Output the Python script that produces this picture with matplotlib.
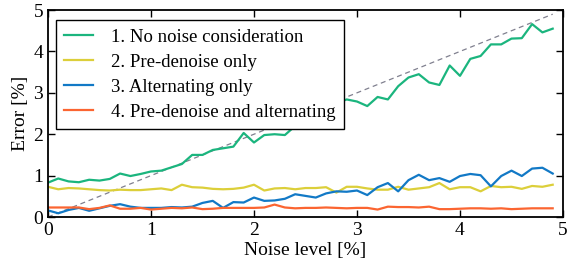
import numpy as np
import matplotlib
matplotlib.use("Agg")
import matplotlib.pyplot as plt

plt.rcParams['font.family'] = ['Liberation Serif', 'DejaVu Serif']
plt.rcParams['mathtext.fontset'] = 'stix'

# noise levels 0.0 .. 4.9
noise = np.round(np.arange(0, 5.0, 0.1), 1)

no_noise = [0.83, 0.93, 0.86, 0.84, 0.90, 0.88, 0.92, 1.05, 0.99, 1.04,
            1.10, 1.12, 1.20, 1.28, 1.50, 1.50, 1.62, 1.66, 1.70, 2.03,
            1.80, 1.98, 2.00, 1.98, 2.20, 2.35, 2.50, 2.65, 2.75, 2.84,
            2.79, 2.68, 2.90, 2.84, 3.16, 3.37, 3.45, 3.25, 3.19, 3.66,
            3.41, 3.82, 3.89, 4.17, 4.17, 4.31, 4.32, 4.66, 4.46, 4.55]

pre_denoise = [0.73, 0.67, 0.70, 0.69, 0.67, 0.65, 0.64, 0.66, 0.65, 0.65,
               0.67, 0.69, 0.65, 0.78, 0.72, 0.71, 0.68, 0.67, 0.68, 0.71,
               0.78, 0.64, 0.69, 0.70, 0.67, 0.70, 0.70, 0.72, 0.59, 0.73,
               0.73, 0.69, 0.66, 0.66, 0.73, 0.66, 0.69, 0.72, 0.82, 0.67,
               0.72, 0.72, 0.62, 0.75, 0.72, 0.73, 0.68, 0.75, 0.73, 0.78]

alternating = [0.16, 0.09, 0.17, 0.22, 0.15, 0.21, 0.27, 0.31, 0.25, 0.22,
               0.22, 0.22, 0.24, 0.23, 0.25, 0.34, 0.39, 0.22, 0.36, 0.35,
               0.47, 0.39, 0.40, 0.44, 0.55, 0.51, 0.47, 0.57, 0.62, 0.61,
               0.64, 0.53, 0.72, 0.82, 0.62, 0.89, 1.02, 0.89, 0.94, 0.85,
               0.99, 1.04, 1.01, 0.74, 0.99, 1.12, 0.99, 1.17, 1.19, 1.05]

pre_and_alt = [0.23, 0.23, 0.23, 0.23, 0.19, 0.22, 0.28, 0.20, 0.20, 0.22,
               0.18, 0.20, 0.22, 0.21, 0.23, 0.19, 0.20, 0.22, 0.22, 0.22,
               0.22, 0.23, 0.30, 0.23, 0.21, 0.22, 0.22, 0.23, 0.22, 0.21,
               0.22, 0.22, 0.18, 0.25, 0.24, 0.24, 0.23, 0.25, 0.19, 0.19,
               0.20, 0.21, 0.21, 0.20, 0.21, 0.19, 0.20, 0.21, 0.21, 0.21]

labels = ["1. No noise consideration", "2. Pre-denoise only",
          "3. Alternating only", "4. Pre-denoise and alternating"]
colors = ["#1bb57e", "#dccf3a", "#1279c6", "#fb6531"]

fig = plt.figure(figsize=(5.71, 2.64), dpi=100)
ax = fig.add_axes([0.084, 0.178, 0.902, 0.784])

# reference line y = x
ax.plot(noise, noise, '--', color='#80808f', lw=0.9, dashes=(4, 3))

for ys, lab, c in zip([no_noise, pre_denoise, alternating, pre_and_alt], labels, colors):
    ax.plot(noise, ys, color=c, lw=1.6, label=lab)

ax.set_xlim(0, 5)
ax.set_ylim(0, 5)
ax.set_xticks(range(6))
ax.set_yticks(range(6))
ax.tick_params(direction='in', top=True, right=True, labelsize=14, length=5, width=1)
for s in ax.spines.values():
    s.set_linewidth(1.3)
ax.set_xlabel("Noise level [%]", fontsize=14, labelpad=2)
ax.set_ylabel("Error [%]", fontsize=14, labelpad=3)

leg = ax.legend(loc='upper left', fontsize=13.5, frameon=True, fancybox=False,
                framealpha=1, edgecolor='black', borderpad=0.45,
                handlelength=1.5, handletextpad=1.0, labelspacing=0.42,
                bbox_to_anchor=(0.0155, 0.952), borderaxespad=0.0)
leg.get_frame().set_linewidth(1.0)

fig.savefig("out.png", dpi=100)
